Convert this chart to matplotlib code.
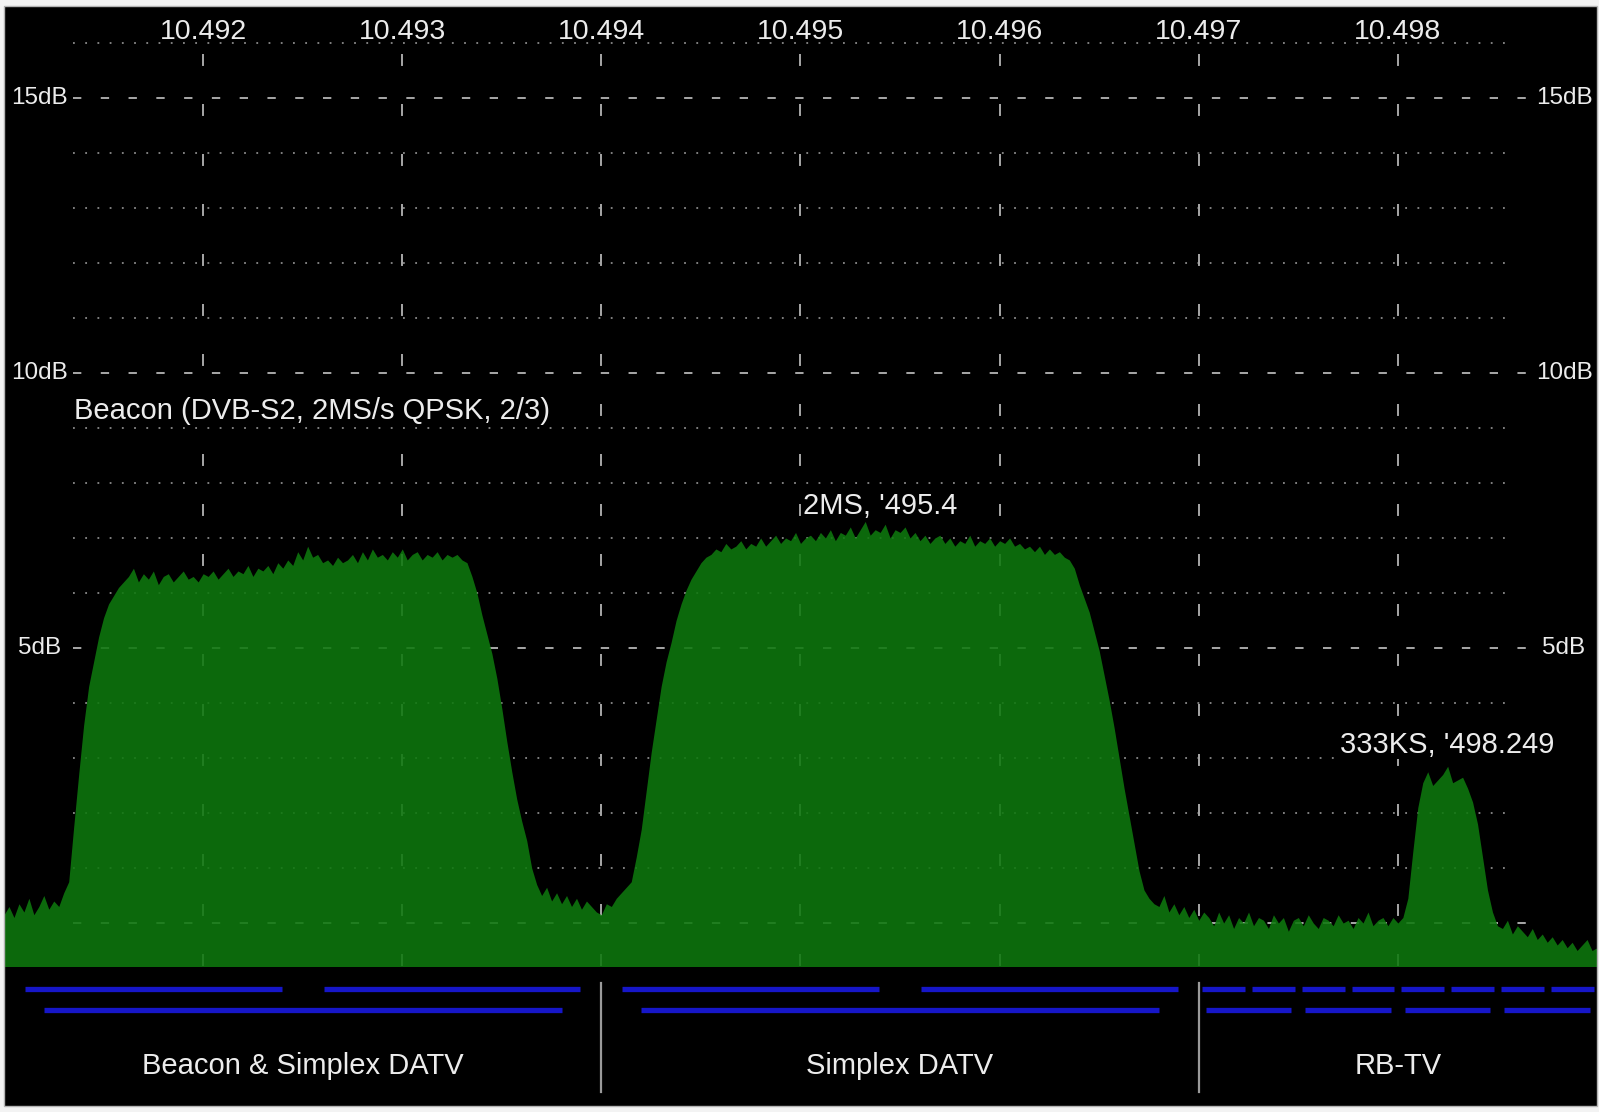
import numpy as np
import matplotlib
matplotlib.use("Agg")
import matplotlib.pyplot as plt
from matplotlib.patches import Rectangle

plt.rcParams['font.family'] = ['Liberation Sans', 'DejaVu Sans']
plt.rcParams['lines.scale_dashes'] = False

# ---------------------------------------------------------------- data
F_START, F_STOP = 10.491, 10.499          # GHz span of the display
DB_BOTTOM, DB_TOP = -0.8, 16.67           # level range of the display

# spectrum level (dB above noise), one value per 25 kHz bin
floor_left = [0.15, 0.3, 0.1, 0.35, 0.2, 0.45, 0.15, 0.3, 0.5, 0.25,
              0.4, 0.3, 0.55]
beacon = [0.75, 1.75, 2.7, 3.6, 4.3, 4.75, 5.2, 5.55, 5.8, 5.95,
          6.1, 6.2, 6.3,
          6.45, 6.2, 6.35, 6.25, 6.4, 6.15, 6.3, 6.35, 6.2, 6.3,
          6.4, 6.25, 6.3, 6.2, 6.35, 6.3, 6.4, 6.25, 6.35, 6.45,
          6.3, 6.4, 6.35, 6.5, 6.3, 6.45, 6.4, 6.5, 6.35, 6.55,
          6.45, 6.6, 6.5, 6.75, 6.6, 6.85, 6.65, 6.7, 6.55, 6.6,
          6.5, 6.65, 6.55, 6.6, 6.7, 6.55, 6.75, 6.6, 6.8, 6.65,
          6.7, 6.6, 6.75, 6.65, 6.8, 6.6, 6.7, 6.75, 6.6, 6.7,
          6.65, 6.75, 6.6, 6.7, 6.65, 6.7, 6.6,
          6.55, 6.3, 6.0, 5.6, 5.25, 4.9, 4.45, 3.9, 3.3, 2.75,
          2.25, 1.85, 1.5, 1.0, 0.7, 0.5]
gap = [0.65, 0.4, 0.55, 0.35, 0.5, 0.3, 0.45, 0.25, 0.4, 0.3, 0.2]
simplex = [0.15, 0.35, 0.3, 0.45, 0.55, 0.65, 0.75, 1.2, 1.7, 2.4,
           3.1, 3.7, 4.3, 4.75, 5.1, 5.5, 5.8, 6.05, 6.25, 6.4,
           6.55, 6.65,
           6.7, 6.8, 6.75, 6.9, 6.8, 6.85, 6.95, 6.8, 6.9, 6.85,
           7.0, 6.85, 6.95, 7.05, 6.9, 7.0, 6.95, 7.1, 6.9, 7.0,
           7.05, 6.95, 7.1, 7.0, 7.15, 6.95, 7.1, 7.05, 7.2, 7.0,
           7.15, 7.3, 7.05, 7.15, 7.1, 7.25, 7.0, 7.15, 7.1, 7.2,
           7.0, 7.1, 6.95, 7.05, 6.9, 7.0, 7.05, 6.9, 7.0, 6.85,
           6.95, 6.9, 7.05, 6.85, 6.95, 6.9, 7.0, 6.85, 6.95, 6.9,
           7.0, 6.85, 6.9, 6.8, 6.85, 6.75, 6.85, 6.7, 6.8, 6.7,
           6.75, 6.65,
           6.6, 6.45, 6.15, 5.9, 5.65, 5.3, 4.95, 4.5, 4.05, 3.55,
           3.0, 2.45, 1.95, 1.45, 0.95, 0.6, 0.45, 0.35]
floor_mid = [0.3, 0.5, 0.2, 0.35, 0.15, 0.3, 0.1, 0.25, 0.05, 0.2,
             0.1, -0.05, 0.2, 0.0, 0.15, -0.1, 0.1, 0.0, 0.2, -0.05,
             0.1, 0.05, -0.1, 0.15, 0.0, 0.1, -0.15, 0.05, 0.1, -0.05,
             0.15, 0.0, -0.1, 0.1, 0.05, -0.05, 0.15, 0.0, 0.05, -0.1,
             0.1, 0.0, 0.2, -0.05, 0.05, 0.1, -0.05, 0.1]
rbtv = [0.0, 0.1, 0.45, 1.3, 2.1, 2.55, 2.75, 2.5, 2.6, 2.7,
        2.85, 2.55, 2.6, 2.65, 2.45, 2.2, 1.8, 1.2, 0.6, 0.2, -0.05]
floor_right = [-0.1, 0.05, -0.2, -0.05, -0.15, -0.25, -0.1, -0.3, -0.2, -0.35,
               -0.25, -0.4, -0.3, -0.45, -0.35, -0.5, -0.4, -0.3, -0.5, -0.45]

freq_ticks = [10.492, 10.493, 10.494, 10.495, 10.496, 10.497, 10.498]
freq_labels = ['10.492', '10.493', '10.494', '10.495', '10.496', '10.497', '10.498']
db_major = [0, 5, 10, 15]
db_minor = [1, 2, 3, 4, 6, 7, 8, 9, 11, 12, 13, 14, 16]
db_labelled = [15, 10, 5]
db_label_text = ['15dB', '10dB', '5dB']

# band plan: channel centres (GHz) and widths (GHz)
wide_row1_centres = [10.49175, 10.49325, 10.49475, 10.49625]
wide_row1_width = 0.00129
wide_row2_centres = [10.4925, 10.4955]
wide_row2_width = 0.0026
rb_row1_centres = [10.497125, 10.497375, 10.497625, 10.497875,
                   10.498125, 10.498375, 10.498625, 10.498875]
rb_row1_width = 0.000215
rb_row2_centres = [10.49725, 10.49775, 10.49825, 10.49875]
rb_row2_width = 0.00043

section_edges = [10.491, 10.494, 10.497, 10.499]
section_names = ['Beacon & Simplex DATV', 'Simplex DATV', 'RB-TV']

annotations = [('Beacon (DVB-S2, 2MS/s QPSK, 2/3)', 10.49135, 9.3, 'left'),
               ("2MS, '495.4", 10.4954, 7.58, 'center'),
               ("333KS, '498.249", 10.498249, 3.24, 'center')]

# ---------------------------------------------------------------- styling
TXT = '#ececec'
GREEN = '#0e780e'
BLUE = '#1616c8'
W, H = 1599, 1112

level_db = np.array(floor_left + beacon + gap + simplex + floor_mid + rbtv + floor_right)
freq = np.linspace(F_START, F_STOP, level_db.size)

fig = plt.figure(figsize=(W / 100, H / 100), dpi=100, facecolor='#f3f3f3')
ax = fig.add_axes([4 / W, 145 / H, 1593 / W, 961 / H])
ax2 = fig.add_axes([4 / W, 6 / H, 1593 / W, 139 / H])

for a in (ax, ax2):
    a.set_facecolor('black')
    a.set_xlim(F_START, F_STOP)
    a.set_xticks([])
    a.set_yticks([])
    for s in a.spines.values():
        s.set_visible(False)

ax.set_ylim(DB_BOTTOM, DB_TOP)
ax2.set_ylim(0, 1)

ytr = ax.get_yaxis_transform()

# horizontal grid
for v in db_major:
    ax.plot([0.0433, 0.956], [v, v], transform=ytr, color='#a8a8a8', lw=1.4,
            dashes=(6, 14), zorder=1)
for v in db_minor:
    ax.plot([0.0433, 0.9454], [v, v], transform=ytr, color='#8a8a8a', lw=1.3,
            dashes=(1.3, 7.5), zorder=1)

# vertical grid
for f in freq_ticks:
    ax.plot([f, f], [15.8, DB_BOTTOM], color='#a8a8a8', lw=1.4,
            dashes=(8.6, 27.4), zorder=1)

# spectrum
ax.fill_between(freq, DB_BOTTOM, level_db, color=GREEN, alpha=0.88, lw=0, zorder=3)

# labels
for f, t in zip(freq_ticks, freq_labels):
    ax.text(f, 16.07, t, color=TXT, fontsize=20.5, ha='center', va='baseline', zorder=5)
for v, t in zip(db_labelled, db_label_text):
    ax.text(0.0225, v, t, transform=ytr, color=TXT, fontsize=17.5,
            ha='center', va='center', zorder=5)
    ax.text(0.9793, v, t, transform=ytr, color=TXT, fontsize=17.5,
            ha='center', va='center', zorder=5)
for t, x, y, ha in annotations:
    ax.text(x, y, t, color=TXT, fontsize=21, ha=ha, va='center', zorder=5,
            bbox=dict(facecolor='black', edgecolor='none', pad=0))

# band plan panel
def draw_row(centres, width, y):
    c = np.asarray(centres)
    ax2.hlines(np.full(c.size, y), c - width / 2, c + width / 2, color=BLUE,
               lw=3.8, capstyle='butt')

draw_row(wide_row1_centres, wide_row1_width, 0.842)
draw_row(rb_row1_centres, rb_row1_width, 0.842)
draw_row(wide_row2_centres, wide_row2_width, 0.691)
draw_row(rb_row2_centres, rb_row2_width, 0.691)

for e in section_edges[1:-1]:
    ax2.plot([e, e], [0.101, 0.885], color='#9a9a9a', lw=1.6)
for lo, hi, name in zip(section_edges[:-1], section_edges[1:], section_names):
    ax2.text((lo + hi) / 2, 0.288, name, color=TXT, fontsize=21,
             ha='center', va='center')

fig.add_artist(Rectangle((4 / W, 6 / H), 1593 / W, 1100 / H, transform=fig.transFigure,
                         fill=False, edgecolor='#b4b4b4', lw=1))

fig.savefig('out.png', dpi=100, facecolor=fig.get_facecolor())
